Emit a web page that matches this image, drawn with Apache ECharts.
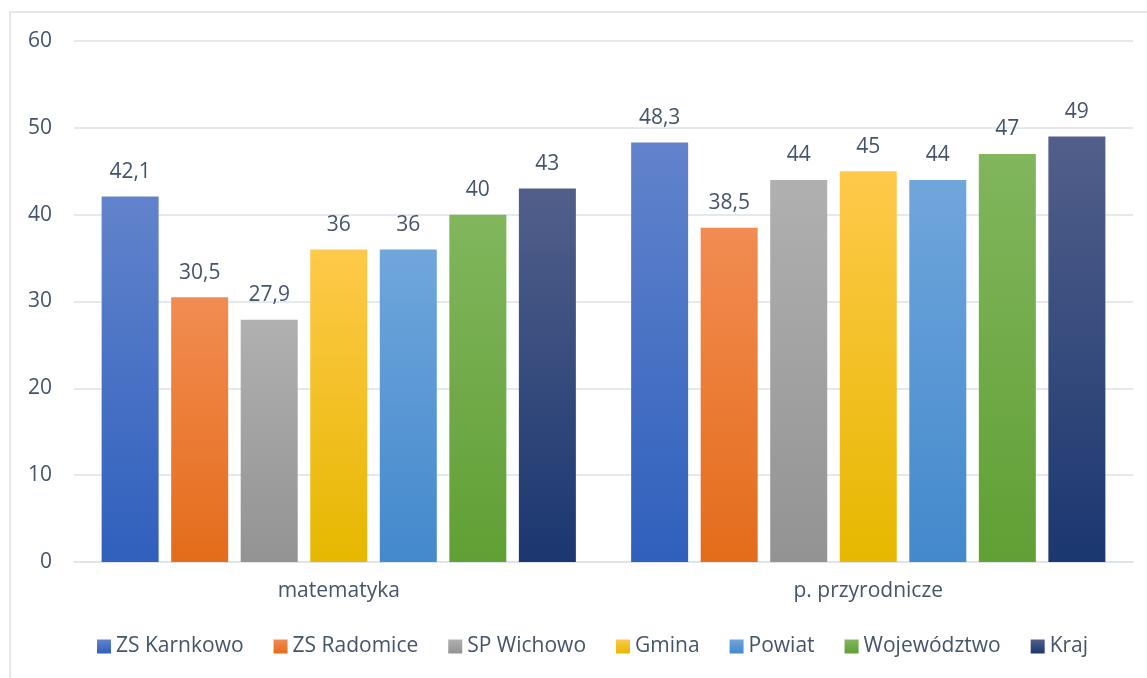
<!DOCTYPE html>
<html>
<head>
<meta charset="utf-8">
<script src="https://cdn.jsdelivr.net/npm/echarts@6/dist/echarts.min.js"></script>
<style>
  html, body { margin: 0; padding: 0; background: #fff; }
  #main { width: 1147px; height: 678px; }
</style>
</head>
<body>
<div id="main"></div>
<script>
// kategorie i dane
var categories = ['matematyka', 'p. przyrodnicze'];
var seriesNames = ['ZS Karnkowo', 'ZS Radomice', 'SP Wichowo', 'Gmina', 'Powiat', 'Województwo', 'Kraj'];
var zsKarnkowo = [42.1, 48.3];
var zsRadomice = [30.5, 38.5];
var spWichowo = [27.9, 44];
var gmina = [36, 45];
var powiat = [36, 44];
var wojewodztwo = [40, 47];
var kraj = [43, 49];
var yTicks = [0, 10, 20, 30, 40, 50, 60];

// kolory: gora / dol gradientu
var colors = [
  ['#6283CC', '#2F60BD'],
  ['#F28C52', '#E46C1A'],
  ['#B0B0B0', '#939393'],
  ['#FFC94A', '#E6B800'],
  ['#70A6DC', '#4389CC'],
  ['#81B65D', '#60A034'],
  ['#525F8A', '#1B3770']
];
var allData = [zsKarnkowo, zsRadomice, spWichowo, gmina, powiat, wojewodztwo, kraj];
var font = '"Open Sans", "Noto Sans", sans-serif';
var textColor = '#44546A';
var lineColor = '#DDE2E8';

function grad(c) {
  return {
    type: 'linear', x: 0, y: 0, x2: 0, y2: 1,
    colorStops: [{ offset: 0, color: c[0] }, { offset: 1, color: c[1] }]
  };
}

var series = [];
for (var i = 0; i < seriesNames.length; i++) {
  series.push({
    name: seriesNames[i],
    type: 'bar',
    barWidth: 57,
    barGap: '22%',
    itemStyle: { color: grad(colors[i]) },
    label: {
      show: true,
      position: 'top',
      distance: 14,
      color: textColor,
      fontFamily: font,
      fontSize: 21,
      formatter: function (p) { return String(p.value).replace('.', ','); }
    },
    data: allData[i]
  });
}

var option = {
  animation: false,
  textStyle: { fontFamily: font },
  graphic: [{
    type: 'polyline',
    shape: { points: [[10, 678], [10, 12], [1147, 12]] },
    style: { fill: null, stroke: lineColor, lineWidth: 1.5 },
    silent: true
  }],
  grid: { left: 74, right: 14, top: 41, bottom: 116 },
  legend: {
    data: seriesNames,
    left: 92,
    top: 631,
    icon: 'rect',
    itemWidth: 14,
    itemHeight: 14,
    itemGap: 30,
    textStyle: { color: textColor, fontSize: 21, fontFamily: font }
  },
  xAxis: {
    type: 'category',
    data: categories,
    axisTick: { show: false },
    axisLine: { lineStyle: { color: lineColor, width: 1.5 } },
    axisLabel: { color: textColor, fontSize: 21, fontFamily: font, margin: 19 }
  },
  yAxis: {
    type: 'value',
    min: yTicks[0],
    max: yTicks[yTicks.length - 1],
    interval: 10,
    axisLine: { show: false },
    axisTick: { show: false },
    splitLine: { lineStyle: { color: lineColor, width: 1.5 } },
    axisLabel: { color: textColor, fontSize: 21, fontFamily: font, margin: 22 }
  },
  series: series
};

var myChart = echarts.init(document.getElementById('main'));
myChart.setOption(option);
</script>
</body>
</html>
